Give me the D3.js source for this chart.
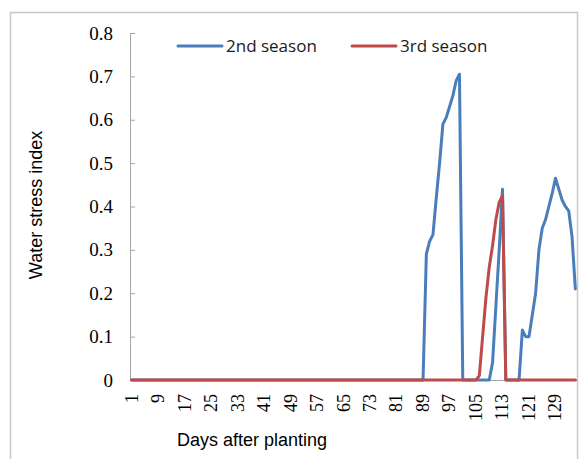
<!DOCTYPE html>
<html>
<head>
<meta charset="utf-8">
<script src="https://cdn.jsdelivr.net/npm/d3@7"></script>
<style>
  body { margin: 0; background: #fff; }
  svg { display: block; }
</style>
</head>
<body>
<div id="chart"></div>
<script>
// Days after planting (categories)
var days = [
  1, 2, 3, 4, 5, 6, 7, 8, 9, 10,
  11, 12, 13, 14, 15, 16, 17, 18, 19, 20,
  21, 22, 23, 24, 25, 26, 27, 28, 29, 30,
  31, 32, 33, 34, 35, 36, 37, 38, 39, 40,
  41, 42, 43, 44, 45, 46, 47, 48, 49, 50,
  51, 52, 53, 54, 55, 56, 57, 58, 59, 60,
  61, 62, 63, 64, 65, 66, 67, 68, 69, 70,
  71, 72, 73, 74, 75, 76, 77, 78, 79, 80,
  81, 82, 83, 84, 85, 86, 87, 88, 89, 90,
  91, 92, 93, 94, 95, 96, 97, 98, 99, 100,
  101, 102, 103, 104, 105, 106, 107, 108, 109, 110,
  111, 112, 113, 114, 115, 116, 117, 118, 119, 120,
  121, 122, 123, 124, 125, 126, 127, 128, 129, 130,
  131, 132, 133, 134, 135
];

// Water stress index, 2nd season
var season2 = [
  0, 0, 0, 0, 0, 0, 0, 0, 0, 0,
  0, 0, 0, 0, 0, 0, 0, 0, 0, 0,
  0, 0, 0, 0, 0, 0, 0, 0, 0, 0,
  0, 0, 0, 0, 0, 0, 0, 0, 0, 0,
  0, 0, 0, 0, 0, 0, 0, 0, 0, 0,
  0, 0, 0, 0, 0, 0, 0, 0, 0, 0,
  0, 0, 0, 0, 0, 0, 0, 0, 0, 0,
  0, 0, 0, 0, 0, 0, 0, 0, 0, 0,
  0, 0, 0, 0, 0, 0, 0, 0, 0, 0.29,
  0.32, 0.335, 0.42, 0.50, 0.59, 0.605, 0.63, 0.655, 0.69, 0.705,
  0, 0, 0, 0, 0, 0, 0, 0, 0, 0.04,
  0.17, 0.30, 0.44, 0, 0, 0, 0, 0, 0.115, 0.10,
  0.10, 0.15, 0.20, 0.30, 0.35, 0.37, 0.40, 0.43, 0.465, 0.44,
  0.415, 0.40, 0.39, 0.33, 0.21
];

// Water stress index, 3rd season
var season3 = [
  0, 0, 0, 0, 0, 0, 0, 0, 0, 0,
  0, 0, 0, 0, 0, 0, 0, 0, 0, 0,
  0, 0, 0, 0, 0, 0, 0, 0, 0, 0,
  0, 0, 0, 0, 0, 0, 0, 0, 0, 0,
  0, 0, 0, 0, 0, 0, 0, 0, 0, 0,
  0, 0, 0, 0, 0, 0, 0, 0, 0, 0,
  0, 0, 0, 0, 0, 0, 0, 0, 0, 0,
  0, 0, 0, 0, 0, 0, 0, 0, 0, 0,
  0, 0, 0, 0, 0, 0, 0, 0, 0, 0,
  0, 0, 0, 0, 0, 0, 0, 0, 0, 0,
  0, 0, 0, 0, 0, 0.01, 0.10, 0.19, 0.26, 0.31,
  0.37, 0.41, 0.425, 0, 0, 0, 0, 0, 0, 0,
  0, 0, 0, 0, 0, 0, 0, 0, 0, 0,
  0, 0, 0, 0, 0
];

var xTickDays = [1, 9, 17, 25, 33, 41, 49, 57, 65, 73, 81, 89, 97, 105, 113, 121, 129];
var yTicks = [0, 0.1, 0.2, 0.3, 0.4, 0.5, 0.6, 0.7, 0.8];

var seriesNames = ["2nd season", "3rd season"];
var seriesColors = ["#4a7ebb", "#be4b48"];

var w = 584;
var h = 459;
var plotLeft = 130, plotRight = 577, plotTop = 33, plotBottom = 380;

var svg = d3.select("#chart")
  .append("svg")
  .attr("width", w)
  .attr("height", h);

// chart border
svg.append("rect")
  .attr("x", 10.5)
  .attr("y", 12.5)
  .attr("width", 567)
  .attr("height", 460)
  .attr("fill", "none")
  .attr("stroke", "#c8c8c8")
  .attr("stroke-width", 1.5);

var xScale = d3.scaleBand()
  .domain(days)
  .range([plotLeft, plotRight])
  .paddingInner(0)
  .paddingOuter(0);

var yScale = d3.scaleLinear()
  .domain([0, 0.8])
  .range([plotBottom, plotTop]);

// y axis, ticks pointing into the plot
var yAxis = svg.append("g")
  .attr("transform", "translate(" + plotLeft + ",0)")
  .call(d3.axisLeft(yScale)
    .tickValues(yTicks)
    .tickSizeInner(-5)
    .tickSizeOuter(0)
    .tickPadding(17)
    .tickFormat(function(d) { return d === 0 ? "0" : d3.format(".1f")(d); }));
yAxis.select(".domain").attr("stroke", "#a6a6a6");
yAxis.selectAll(".tick line").attr("stroke", "#a6a6a6");
yAxis.selectAll("text")
  .attr("font-family", "Liberation Serif, Times New Roman, serif")
  .style("font-size", "19px")
  .attr("fill", "#000");

// x axis
var xAxis = svg.append("g")
  .attr("transform", "translate(0," + plotBottom + ")")
  .call(d3.axisBottom(xScale)
    .tickValues(xTickDays)
    .tickSize(0)
    .tickPadding(0));
xAxis.select(".domain").attr("stroke", "#a6a6a6");
xAxis.selectAll("text")
  .attr("transform", "rotate(-90)")
  .attr("x", -14)
  .attr("y", 0)
  .attr("dy", "0.33em")
  .attr("text-anchor", "end")
  .attr("font-family", "Liberation Serif, Times New Roman, serif")
  .style("font-size", "18px")
  .attr("fill", "#000");

// lines
var line = d3.line()
  .x(function(d, i) { return xScale(days[i]) + xScale.bandwidth() / 2; })
  .y(function(d) { return yScale(d); });

[season2, season3].forEach(function(s, k) {
  svg.append("path")
    .datum(s)
    .attr("fill", "none")
    .attr("stroke", seriesColors[k])
    .attr("stroke-width", 3)
    .attr("stroke-linejoin", "round")
    .attr("stroke-linecap", "round")
    .attr("d", line);
});

// legend
var legendX = [178, 352];
seriesNames.forEach(function(name, k) {
  svg.append("line")
    .attr("x1", legendX[k])
    .attr("x2", legendX[k] + 44)
    .attr("y1", 46)
    .attr("y2", 46)
    .attr("stroke", seriesColors[k])
    .attr("stroke-width", 3)
    .attr("stroke-linecap", "round");
  svg.append("text")
    .attr("x", legendX[k] + 48)
    .attr("y", 52)
    .attr("font-family", "Open Sans, sans-serif")
    .style("font-size", "17px")
    .attr("fill", "#1a1a1a")
    .text(name);
});

// y axis title
svg.append("text")
  .attr("transform", "translate(42,205) rotate(-90)")
  .attr("text-anchor", "middle")
  .attr("font-family", "Liberation Sans, Arial, sans-serif")
  .style("font-size", "18px")
  .attr("fill", "#000")
  .text("Water stress index");

// x axis title
svg.append("text")
  .attr("x", 252)
  .attr("y", 446)
  .attr("text-anchor", "middle")
  .attr("font-family", "Liberation Sans, Arial, sans-serif")
  .style("font-size", "18px")
  .attr("fill", "#000")
  .text("Days after planting");
</script>
</body>
</html>
